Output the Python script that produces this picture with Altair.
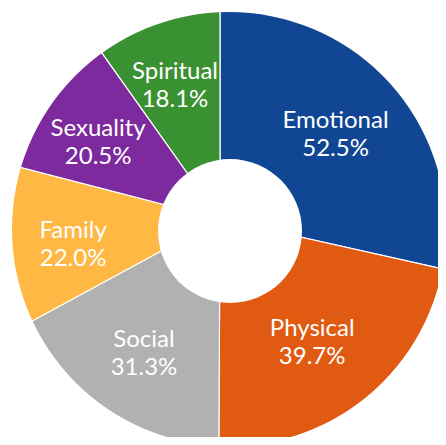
import altair as alt
import pandas as pd

categories = ["Emotional", "Physical", "Social", "Family", "Sexuality", "Spiritual"]
values = [52.5, 39.7, 31.3, 22.0, 20.5, 18.1]
colors = ["#104694", "#E05A12", "#B1B1B1", "#FEB843", "#7E2A9F", "#3A9132"]

df = pd.DataFrame({"category": categories, "value": values, "idx": list(range(len(categories)))})

# page coords minus 8px margin
AX, AY = 212, 211     # apex of the slices
CX, CY = 221, 221     # centre of the outer circle / hole
TX, TY = 212, 219     # centre used for the labels

base = alt.Chart(df).encode(
    theta=alt.Theta("value:Q", stack=True),
    order=alt.Order("idx:Q", sort="ascending"),
)

pie = base.mark_arc(outerRadius=245, stroke="white", strokeWidth=1.2).encode(
    color=alt.Color("category:N", scale=alt.Scale(domain=categories, range=colors), legend=None),
    x=alt.value(AX), y=alt.value(AY),
)

one = pd.DataFrame({"a": [0]})
mask = alt.Chart(one).mark_arc(theta=0, theta2=6.2832, radius=217, radius2=340, fill="white").encode(
    x=alt.value(CX), y=alt.value(CY)
)
hole = alt.Chart(one).mark_arc(theta=0, theta2=6.2832, radius=72, radius2=0, fill="white").encode(
    x=alt.value(CX + 1), y=alt.value(CY + 2)
)

txt_style = dict(radius=148, font="Lato", fontSize=24, fontWeight="normal", color="white", baseline="middle")
name_txt = base.mark_text(dy=-14, **txt_style).encode(
    text="category:N", x=alt.value(TX), y=alt.value(TY)
)
pct_txt = base.transform_calculate(
    label="format(datum.value, '.1f') + '%'"
).mark_text(dy=14, **txt_style).encode(
    text="label:N", x=alt.value(TX), y=alt.value(TY)
)

chart = alt.layer(pie, mask, hole, name_txt, pct_txt).properties(
    width=430, height=429, autosize=alt.AutoSizeParams(type="none"), padding=0
).configure_view(stroke=None)

chart.save("out.html", embed_options={"renderer": "svg", "actions": False})
